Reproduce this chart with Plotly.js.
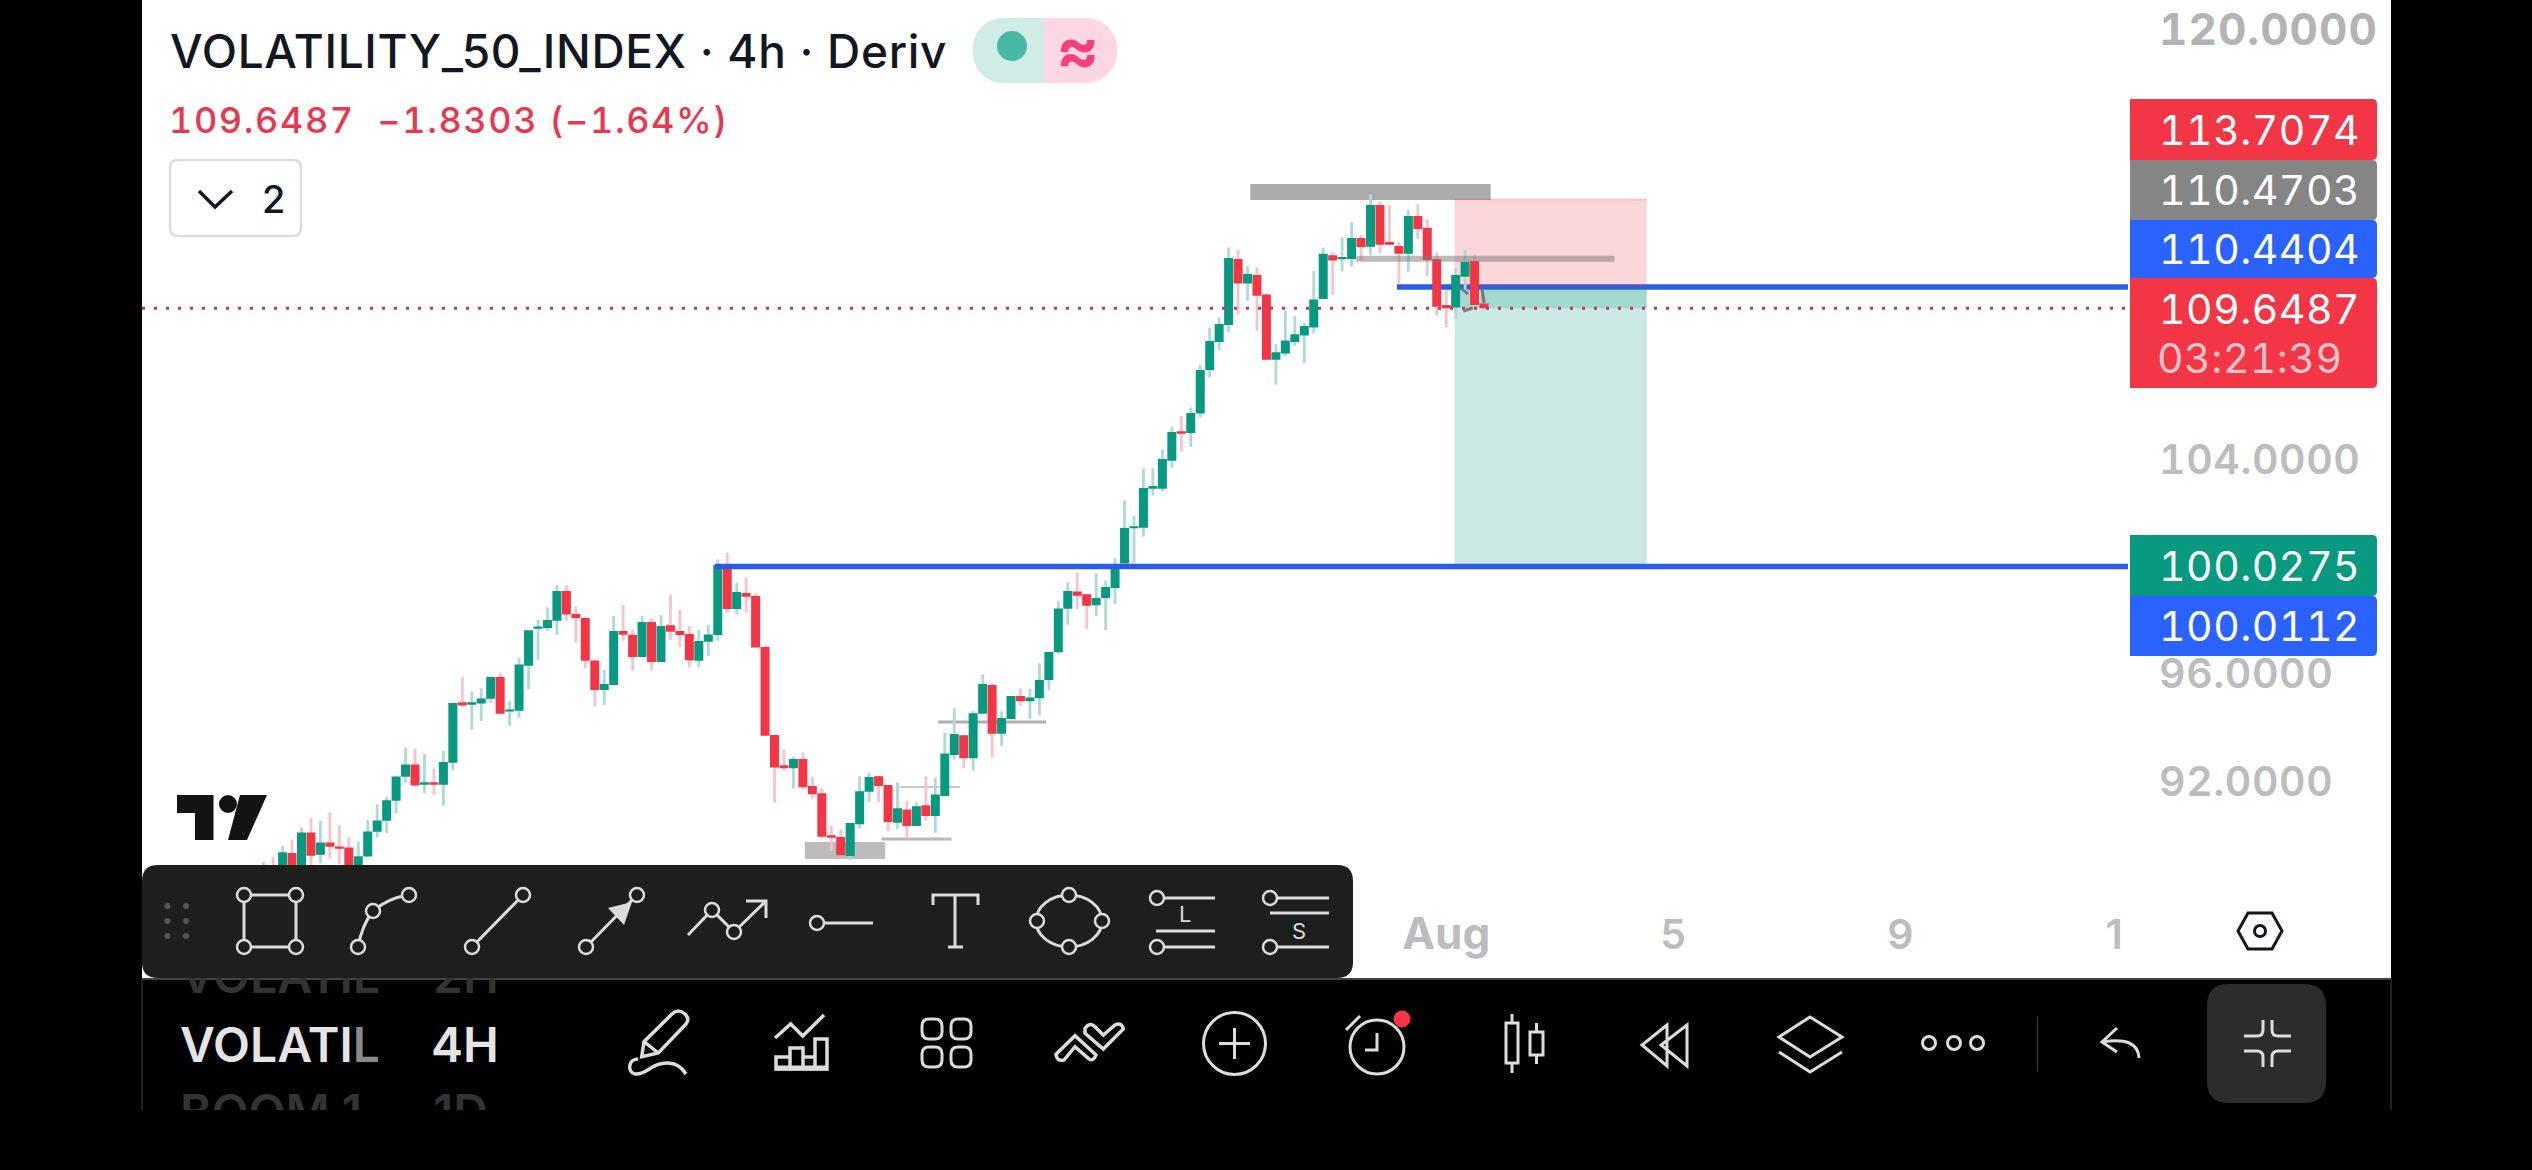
<!DOCTYPE html>
<html>
<head>
<meta charset="utf-8">
<script src="https://cdn.plot.ly/plotly-3.0.1.min.js"></script>
<style>html,body{margin:0;padding:0;background:#000;overflow:hidden}#chart{width:2532px;height:1170px}</style>
</head>
<body>
<div id="chart"></div>
<script>
// ---------- data ----------
const candleOpen = [88.2,88.7,88.5,89.32,88.6,90.09,89.26,89.72,89.57,89.53,88.8,89.19,90.12,90.53,91.27,92.17,92.63,91.87,91.96,91.87,92.69,94.95,94.86,94.90,95.08,95.89,94.60,94.63,96.31,97.69,97.72,97.99,99.10,98.24,98.09,96.51,95.41,95.59,97.61,97.47,96.64,97.94,96.45,97.82,97.61,97.50,96.50,97.21,97.46,100.07,98.43,99.03,98.91,97.01,93.73,92.60,92.49,92.83,91.82,91.55,89.99,89.92,89.21,90.40,91.61,92.19,91.86,90.45,90.95,90.33,91.11,90.70,91.45,92.98,93.72,92.86,94.52,95.59,93.77,94.32,95.18,94.99,95.10,95.78,96.81,98.44,99.08,98.98,98.57,98.84,99.21,100.13,101.44,101.46,102.92,102.92,103.96,105.06,105.00,105.72,107.35,108.39,109.03,111.49,110.57,110.89,110.16,107.73,107.96,108.39,108.63,108.93,110.00,111.63,111.48,111.49,112.27,111.95,113.50,112.12,111.97,111.68,113.09,112.65,111.49,109.77,109.68,110.83,111.41,109.83];
const candleHigh = [89.00,89.19,89.58,89.83,90.28,90.62,90.53,90.84,90.36,89.91,89.75,90.55,91.14,91.42,92.18,93.27,93.22,93.02,92.48,93.13,94.92,95.89,95.36,95.47,95.89,96.06,94.99,96.62,97.64,98.02,98.49,99.32,99.32,98.52,98.14,96.51,96.15,98.17,98.58,97.63,98.17,98.08,98.20,98.95,98.39,97.79,97.64,97.83,100.28,100.53,99.41,99.60,99.01,97.08,93.73,93.19,92.91,93.08,92.17,91.73,90.33,90.20,90.44,92.18,92.32,92.19,91.86,91.96,91.28,91.21,92.18,92.14,93.82,94.72,93.72,94.63,95.99,95.65,94.61,95.18,95.46,95.46,96.40,96.82,98.74,99.42,99.79,98.98,99.76,99.49,100.32,102.49,101.90,103.68,103.68,104.38,105.23,105.63,105.95,107.53,108.93,109.31,111.92,111.82,111.23,111.18,110.21,108.32,109.55,109.36,109.09,111.04,111.92,111.74,112.30,112.87,112.38,113.91,113.63,113.50,112.12,113.32,113.54,112.97,111.74,110.33,111.14,111.85,111.66,109.83];
const candleLow = [87.9,87.9,88.2,88.3,88.4,88.8,88.94,89.12,88.9,88.5,88.6,89.19,89.91,90.06,90.80,91.96,91.84,91.55,91.49,91.09,92.40,94.78,93.92,94.25,94.93,94.52,94.07,94.37,95.43,96.52,97.62,97.46,97.99,97.17,96.21,94.81,94.85,95.59,97.25,96.11,96.64,96.15,96.45,97.27,97.00,96.24,96.25,96.67,97.25,98.29,98.22,98.29,96.99,93.70,91.20,92.39,91.72,91.69,91.35,89.87,89.41,89.24,89.06,90.24,91.23,91.23,90.14,90.23,89.90,90.33,90.53,90.08,91.45,92.81,92.49,92.39,94.52,92.90,93.31,94.32,94.80,94.32,94.46,95.41,96.77,97.84,98.42,97.68,98.16,97.64,98.61,100.13,100.13,101.13,102.66,102.81,103.70,104.30,104.48,105.57,107.07,108.09,108.74,109.42,109.93,108.80,107.73,106.80,107.87,108.25,107.60,108.71,110.00,110.15,111.02,111.20,111.44,111.64,111.70,112.02,110.58,111.02,112.24,110.85,109.37,108.94,109.27,110.21,109.77,109.61];
const candleClose = [88.7,88.3,89.35,88.6,90.09,89.22,89.72,89.56,89.48,88.8,89.20,90.13,90.54,91.29,92.18,92.63,91.84,91.96,91.87,92.72,94.92,94.83,94.95,95.09,95.89,94.52,94.68,96.36,97.64,97.78,98.02,99.10,98.22,98.09,96.50,95.41,95.63,97.61,97.47,96.64,97.94,96.45,97.79,97.58,97.46,96.52,97.23,97.48,100.07,98.43,99.06,98.89,96.99,93.70,92.51,92.49,92.83,91.78,91.52,89.93,89.89,89.24,90.44,91.63,92.16,91.82,90.48,90.99,90.33,91.07,90.70,91.51,93.04,93.76,92.86,94.54,95.63,93.77,94.36,95.18,94.99,95.13,95.78,96.82,98.45,99.10,98.92,98.55,98.84,99.25,100.10,101.45,101.52,102.94,103.02,104.03,105.03,104.97,105.74,107.35,108.43,109.06,111.53,110.57,110.93,110.12,107.73,108.01,108.45,108.68,108.99,109.98,111.68,111.43,111.56,112.27,111.94,113.50,112.02,112.02,111.68,113.09,112.61,111.45,109.71,109.65,110.89,111.39,109.77,109.6487];
const yTickValues = [92,96,104,120];
const yTickLabels = ['92.0000','96.0000','104.0000','120.0000'];
const xTickValues = [125,149,173,195.6];
const xTickLabels = ['Aug','5','9','1'];
const stopPrice = 113.7074, entryPrice = 110.4404, targetPrice = 100.0275, supportPrice = 100.0112, lastPrice = 109.6487;
const candleIndex = candleOpen.map((_, i) => i);

// ---------- geometry helpers (page pixels -> paper fractions) ----------
const L = 142, R = 2128, B = 912;
const X = p => ((+p - L) / (R - L)).toFixed(6);
const Y = p => ((B - +p) / B).toFixed(6);
const pth = s => s.replace(/(-?[\d.]+)[ ,]+(-?[\d.]+)/g, (m, a, b) => X(a) + ' ' + Y(b));
const ICON = '#dcdcdc';
const shapesBelow = [], shapesAbove = [], notes = [];
function path(list, d, o = {}) {
  list.push({type: 'path', xref: 'paper', yref: 'paper', path: pth(d), layer: list === shapesBelow ? 'below' : 'above',
    line: {color: o.color || ICON, width: o.width === undefined ? 3 : o.width}, fillcolor: o.fill || 'rgba(0,0,0,0)'});
}
function rect(list, x0, y0, x1, y1, r, fill, stroke, sw) {
  const d = `M ${x0 + r} ${y0} L ${x1 - r} ${y0} Q ${x1} ${y0} ${x1} ${y0 + r} L ${x1} ${y1 - r} Q ${x1} ${y1} ${x1 - r} ${y1} L ${x0 + r} ${y1} Q ${x0} ${y1} ${x0} ${y1 - r} L ${x0} ${y0 + r} Q ${x0} ${y0} ${x0 + r} ${y0} Z`;
  path(list, d, {fill, color: stroke || 'rgba(0,0,0,0)', width: sw || 0});
}
function ell(list, cx, cy, rx, ry, o = {}) {
  list.push({type: 'circle', xref: 'paper', yref: 'paper', layer: list === shapesBelow ? 'below' : 'above',
    x0: X(cx - rx), x1: X(cx + rx), y0: Y(cy + ry), y1: Y(cy - ry),
    line: {color: o.color || ICON, width: o.width === undefined ? 3 : o.width}, fillcolor: o.fill || 'rgba(0,0,0,0)'});
}
const num = (t, ls, extra) => `<span style="font-variant-numeric:tabular-nums;letter-spacing:${ls}px;${extra || ''}">${t}</span>`;
function text(t, px, py, size, color, o = {}) {
  const n = {text: t, xref: 'paper', yref: 'paper', x: +X(px), y: +Y(py), showarrow: false, borderpad: 0, borderwidth: 0,
    xanchor: o.anchor || 'left', yanchor: o.v || 'middle',
    font: {family: o.family || 'Inter, "Liberation Sans", sans-serif', size, color, weight: o.weight || 400}};
  if (o.height) { n.height = o.height; n.valign = o.valign; }
  notes.push(n);
}
const dot = (list, cx, cy) => ell(list, cx, cy, 7, 7, {color: ICON, width: 2.5, fill: '#1e1e1e'});

// ---------- page furniture ----------
rect(shapesBelow, 142, 0, 2391, 978, 0, '#ffffff');

// tradingview logo
path(shapesBelow, 'M 177 795 L 213.5 795 L 213.5 840 L 195 840 L 195 813 L 177 813 Z', {fill: '#131313', width: 0});
ell(shapesBelow, 228, 804, 9, 9, {fill: '#131313', width: 0});
path(shapesBelow, 'M 240 795 L 267 795 L 247 840 L 228 840 Z', {fill: '#131313', width: 0});

// ---------- drawings on the price scale ----------
const dataShape = (o) => Object.assign({xref: 'x', yref: 'y', layer: 'below'}, o);
const drawings = [
  dataShape({type: 'rect', x0: 104.3, x1: 129.7, y0: 113.69, y1: 114.29, fillcolor: '#ababab', line: {width: 0}}),
  dataShape({type: 'rect', x0: 57.2, x1: 65.7, y0: 89.10, y1: 89.73, fillcolor: '#bcbcbc', line: {width: 0}}),
  dataShape({type: 'line', x0: 65.3, x1: 72.7, y0: 89.85, y1: 89.85, line: {color: '#b8b8b8', width: 3}}),
  dataShape({type: 'line', x0: 67.2, x1: 73.6, y0: 91.79, y1: 91.79, line: {color: '#b8b8b8', width: 1.5}}),
  dataShape({type: 'line', x0: 71.3, x1: 82.7, y0: 94.21, y1: 94.21, line: {color: '#b0b0b0', width: 3}}),
  dataShape({type: 'line', x0: 119.8, x1: 197.07, y0: entryPrice, y1: entryPrice, line: {color: '#2a5ce8', width: 5.5}}),
  dataShape({type: 'rect', x0: 125.9, x1: 146.2, y0: entryPrice, y1: stopPrice, fillcolor: 'rgba(242,54,69,0.2)', line: {width: 0}}),
  dataShape({type: 'line', x0: 125.9, x1: 146.2, y0: stopPrice, y1: stopPrice, line: {color: 'rgba(242,54,69,0.2)', width: 2}}),
  dataShape({type: 'rect', x0: 125.9, x1: 146.2, y0: targetPrice, y1: entryPrice, fillcolor: 'rgba(8,153,129,0.21)', line: {width: 0}}),
  dataShape({type: 'rect', x0: 126.5, x1: 146.2, y0: lastPrice, y1: 110.33, fillcolor: 'rgba(8,153,129,0.2)', line: {width: 0}}),
  dataShape({type: 'line', x0: -12.86, x1: 197.07, y0: lastPrice, y1: lastPrice, layer: 'above', line: {color: '#c43a4e', width: 3, dash: '3px,9px'}}),
  dataShape({type: 'line', x0: 47.7, x1: 197.07, y0: supportPrice, y1: supportPrice, layer: 'above', line: {color: '#2a5ce8', width: 5.5}}),
  dataShape({type: 'line', x0: 115.5, x1: 142.8, y0: 111.5, y1: 111.5, layer: 'above', line: {color: 'rgba(120,120,120,0.5)', width: 6}}),
  dataShape({type: 'line', x0: 126.67, x1: 127.3, y0: 110.37, y1: 110.18, layer: 'above', line: {color: '#777777', width: 3}}),
  dataShape({type: 'line', x0: 126.8, x1: 127.8, y0: 109.55, y1: 109.66, layer: 'above', line: {color: '#777777', width: 3}}),
  dataShape({type: 'line', x0: 128.8, x1: 129, y0: 110.33, y1: 109.85, layer: 'above', line: {color: '#777777', width: 3}})
];

// ---------- price tags ----------
const tag = (y0, y1, fill) => path(shapesAbove, `M 2130 ${y0} L 2372 ${y0} Q 2377 ${y0} 2377 ${y0 + 5} L 2377 ${y1 - 5} Q 2377 ${y1} 2372 ${y1} L 2130 ${y1} Z`, {fill, color: 'rgba(0,0,0,0)', width: 0});
tag(99, 160, '#f23645'); tag(160, 220, '#858585'); tag(220, 278, '#2962ff'); tag(278, 388, '#f23645');
tag(535, 596, '#089981'); tag(596, 656, '#2962ff');
const tagFont = 41, tagLS = 0.5;
text(num('113.7074', tagLS), 2159, 130, tagFont, '#ffffff');
text(num('110.4703', tagLS), 2159, 190, tagFont, '#ffffff');
text(num('110.4404', tagLS), 2159, 249, tagFont, '#ffffff');
text(num('109.6487', tagLS), 2159, 309, tagFont, '#ffffff');
text(num('03:21:39', tagLS), 2157, 358, tagFont, '#ffc4cb');
text(num('100.0275', tagLS), 2159, 566, tagFont, '#ffffff');
text(num('100.0112', tagLS), 2159, 626, tagFont, '#ffffff');

// ---------- header ----------
text('<span style="letter-spacing:0.7px">VOLATILITY_50_INDEX · 4h · Deriv</span>', 170, 51, 46, '#131722', {weight: 500});
text(num('109.6487  −1.8303 (−1.64%)', 1.6), 169, 120, 36, '#e8384f', {weight: 500});
path(shapesAbove, 'M 1044 18 L 1004 18 C 962 18 962 83 1004 83 L 1044 83 Z', {fill: '#cfece6', width: 0, color: 'rgba(0,0,0,0)'});
path(shapesAbove, 'M 1044 18 L 1085 18 C 1128 18 1128 83 1085 83 L 1044 83 Z', {fill: '#ffd6e3', width: 0, color: 'rgba(0,0,0,0)'});
ell(shapesAbove, 1012, 46, 15, 15, {fill: '#46b9a4', width: 0});
text('≈', 1077, 48, 64, '#f73f7f', {anchor: 'center', weight: 700});
rect(shapesAbove, 170, 160, 301, 236, 8, '#ffffff', '#dddddd', 2.5);
path(shapesAbove, 'M 199 191 L 215 207 L 232 191', {color: '#131722', width: 3.5});
text('2', 274, 199, 38, '#131722', {anchor: 'center', weight: 500});

// ---------- settings hexagon ----------
path(shapesAbove, 'M 2238 931 L 2248 913 L 2272 913 L 2282 931 L 2272 949 L 2248 949 Z', {color: '#131722', width: 3});
ell(shapesAbove, 2260, 931, 5.5, 5.5, {color: '#131722', width: 3});

// ---------- bottom black band ----------
path(shapesAbove, 'M 142 979 L 2391 979', {color: '#5a5a5a', width: 1.5});
path(shapesAbove, 'M 142 979 L 142 1110', {color: '#2c2c2c', width: 1.5});
path(shapesAbove, 'M 2391 979 L 2391 1110', {color: '#2c2c2c', width: 1.5});

// drawing toolbar
rect(shapesAbove, 142, 865, 1353, 978, 16, '#1e1e1e');
[167.5, 186].forEach(x => [906, 921, 936].forEach(y => ell(shapesAbove, x, y, 3, 3, {fill: '#555555', width: 0})));
path(shapesAbove, 'M 244 895 L 296 895 L 296 947 L 244 947 Z');
[[244, 895], [296, 895], [244, 947], [296, 947]].forEach(p => dot(shapesAbove, p[0], p[1]));
path(shapesAbove, 'M 358 947 Q 362 925 373 911 Q 388 898 409 895');
[[358, 947], [373, 911], [409, 895]].forEach(p => dot(shapesAbove, p[0], p[1]));
path(shapesAbove, 'M 472 947 L 523 895');
[[472, 947], [523, 895]].forEach(p => dot(shapesAbove, p[0], p[1]));
path(shapesAbove, 'M 586 947 L 637 895');
path(shapesAbove, 'M 632 902 L 608 908 L 624 925 Z', {fill: ICON, width: 0});
[[586, 947], [637, 895]].forEach(p => dot(shapesAbove, p[0], p[1]));
path(shapesAbove, 'M 688 935 L 712 910 L 734 932 L 766 901 M 746 901 L 766 901 L 766 918');
[[712, 910], [734, 932]].forEach(p => dot(shapesAbove, p[0], p[1]));
path(shapesAbove, 'M 817 923 L 873 923');
dot(shapesAbove, 817, 923);
path(shapesAbove, 'M 933 905 L 933 895 L 978 895 L 978 905 M 955 895 L 955 947 M 948 947 L 963 947');
ell(shapesAbove, 1069, 921, 33, 26);
[[1069, 895], [1069, 947], [1037, 921], [1102, 921]].forEach(p => dot(shapesAbove, p[0], p[1]));
path(shapesAbove, 'M 1157 898 L 1215 898 M 1157 947 L 1215 947 M 1156 931 L 1215 931');
dot(shapesAbove, 1157, 898); dot(shapesAbove, 1157, 947);
text('L', 1185, 914, 22, ICON, {anchor: 'center'});
path(shapesAbove, 'M 1270 898 L 1329 898 M 1270 947 L 1329 947 M 1270 913 L 1329 913');
dot(shapesAbove, 1270, 898); dot(shapesAbove, 1270, 947);
text('S', 1299, 931, 22, ICON, {anchor: 'center'});

// symbol picker
text('VOLATIL', 180, 978, 48, '#333333', {v: 'top', weight: 600, height: 27, valign: 'bottom'});
text('2H', 433, 978, 48, '#333333', {v: 'top', weight: 600, height: 27, valign: 'bottom'});
text('VOLATI<span style="color:#8a8a8a">L</span>', 180, 1045, 48, '#e4e4e4', {weight: 600});
text('4H', 431, 1045, 48, '#e4e4e4', {weight: 600});
text('BOOM 1', 180, 1082, 48, '#333333', {v: 'top', weight: 600, height: 28, valign: 'top'});
text('1D', 433, 1082, 48, '#333333', {v: 'top', weight: 600, height: 28, valign: 'top'});

// pen
path(shapesAbove, 'M 641.7 1056.7 L 644 1041.7 L 672 1014 Q 678 1008 685 1014 Q 690 1019 686 1024 L 658.3 1053 Z M 644 1041.7 L 658.3 1053', {width: 3.5});
path(shapesAbove, 'M 638 1059 C 628 1059 627 1072 635 1074 C 645 1075 650 1066 660 1064 C 672 1061 680 1064 686 1074', {width: 3.5});
// indicators
path(shapesAbove, 'M 776 1069 L 776 1057 L 790 1057 L 790 1048 L 803 1048 L 803 1057 L 815 1057 L 815 1039 L 827 1039 L 827 1069 Z M 790 1057 L 790 1069 M 803 1057 L 803 1069 M 815 1057 L 815 1069', {width: 3.5});
path(shapesAbove, 'M 775 1068 L 828 1068', {width: 5});
path(shapesAbove, 'M 775 1038 L 790.7 1024 L 802.7 1036 L 824 1015', {width: 3.5});
// grid
[[922, 1019], [951, 1019], [922, 1047], [951, 1047]].forEach(p => rect(shapesAbove, p[0], p[1], p[0] + 20, p[1] + 20, 7, 'rgba(0,0,0,0)', ICON, 3));
// compare
path(shapesAbove, 'M 1056 1054.3 L 1075 1035.7 L 1096 1055 Q 1093.3 1062.3 1088.3 1058.3 L 1075 1046.7 L 1064 1060 Q 1056.7 1061.7 1056 1054.3 Z', {width: 3.5});
path(shapesAbove, 'M 1085 1028.3 Q 1090 1021.7 1095 1026.7 L 1103.3 1035 L 1115 1025 Q 1121.7 1021.7 1123.3 1029 L 1103.3 1049 L 1085 1033.3 Z', {width: 3.5});
// plus
ell(shapesAbove, 1234.5, 1043.5, 31, 31);
path(shapesAbove, 'M 1219 1043.5 L 1250 1043.5 M 1234.5 1028 L 1234.5 1059');
// alarm
ell(shapesAbove, 1377, 1047, 27, 27);
path(shapesAbove, 'M 1377 1033 L 1377 1050 L 1365 1050 M 1346 1030 L 1360 1016');
ell(shapesAbove, 1402, 1019, 8.5, 8.5, {fill: '#f23645', width: 0});
// bars style
path(shapesAbove, 'M 1512 1014 L 1512 1023 M 1512 1063 L 1512 1073 M 1536.5 1023 L 1536.5 1032 M 1536.5 1055 L 1536.5 1064 M 1506 1023 L 1518 1023 L 1518 1063 L 1506 1063 Z M 1530 1032 L 1543 1032 L 1543 1055 L 1530 1055 Z');
// replay
path(shapesAbove, 'M 1667 1025 L 1642 1045 L 1667 1066 Z M 1687 1025 L 1661 1045 L 1687 1066 Z');
// layers
path(shapesAbove, 'M 1810 1017 L 1842 1037 L 1810 1057 L 1779 1037 Z M 1779 1052 L 1810 1072 L 1842 1052');
// more
[1929, 1954, 1977].forEach(x => ell(shapesAbove, x, 1043, 6.5, 6.5));
path(shapesAbove, 'M 2037.5 1017 L 2037.5 1071', {color: '#333333', width: 1.5});
// undo
path(shapesAbove, 'M 2117 1028 L 2102 1042 L 2117 1052 M 2102 1042 Q 2138 1036 2139 1058');
// collapse button
rect(shapesAbove, 2207, 984, 2326, 1103, 22, '#2c2c2c');
path(shapesAbove, 'M 2244 1036 L 2257 1036 Q 2263 1036 2263 1030 L 2263 1020 M 2291 1036 L 2278 1036 Q 2272 1036 2272 1030 L 2272 1020 M 2244 1051 L 2257 1051 Q 2263 1051 2263 1057 L 2263 1067 M 2291 1051 L 2278 1051 Q 2272 1051 2272 1057 L 2272 1067');

// ---------- traces ----------
const isUp = candleOpen.map((o, i) => candleClose[i] >= o);
const wicks = {
  type: 'bar', x: candleIndex, base: candleLow, y: candleHigh.map((h, i) => h - candleLow[i]),
  width: 0.3, marker: {color: isUp.map(u => u ? '#aedcd4' : '#f8c4cb'), line: {width: 0}},
  hoverinfo: 'skip', showlegend: false
};
const bodies = {
  type: 'candlestick', x: candleIndex, open: candleOpen, high: candleHigh, low: candleLow, close: candleClose,
  increasing: {line: {color: '#089981', width: 0}, fillcolor: '#089981'},
  decreasing: {line: {color: '#f23645', width: 0}, fillcolor: '#f23645'},
  whiskerwidth: 0, showlegend: false, hoverinfo: 'skip'
};

const layout = {
  width: 2532, height: 1170,
  margin: {l: L, r: 2532 - R, t: 0, b: 1170 - B, pad: 0},
  paper_bgcolor: '#000000', plot_bgcolor: '#ffffff',
  showlegend: false, barmode: 'overlay', boxmode: 'overlay', boxgap: 0.05, boxgroupgap: 0,
  font: {family: 'Inter, sans-serif'},
  xaxis: {type: 'linear', range: [-12.86, 197.07], rangeslider: {visible: false}, showgrid: false, zeroline: false, showline: false,
    tickmode: 'array', tickvals: xTickValues,
    ticktext: xTickLabels.map((t, i) => i === 0 ? `<span style="font-weight:700;font-size:44px">${t}</span>` : t),
    ticks: '', ticklabelstandoff: -5,
    tickfont: {family: 'Inter, sans-serif', size: 41, color: '#bdbdbd', weight: 600}},
  yaxis: {type: 'linear', side: 'right', range: [87.122, 121.153], showgrid: false, zeroline: false, showline: false,
    tickmode: 'array', tickvals: yTickValues,
    ticktext: yTickLabels.map(t => t === '120.0000' ? num(t, 1, 'font-size:44px;font-weight:700;fill:#b4b4b4') : num(t, 0.6)),
    ticks: '', ticklabelstandoff: 30,
    tickfont: {family: 'Inter, sans-serif', size: 41, color: '#bdbdbd', weight: 600}},
  shapes: shapesBelow.concat(drawings, shapesAbove),
  annotations: notes
};
Plotly.newPlot('chart', [wicks, bodies], layout, {displayModeBar: false, staticPlot: true});
</script>
</body>
</html>
